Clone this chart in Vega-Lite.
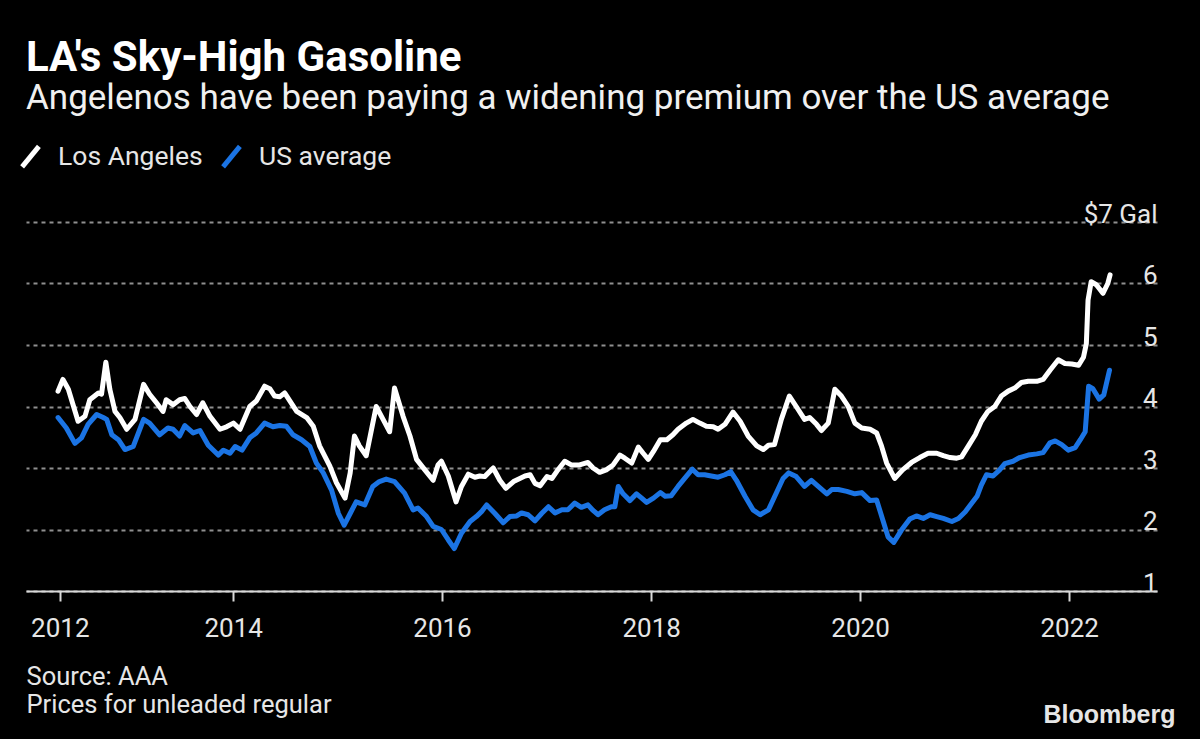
{
  "$schema": "https://vega.github.io/schema/vega-lite/v6.json",
  "width": 1131,
  "height": 369,
  "autosize": {"type": "none"},
  "padding": {"left": 26, "top": 222, "right": 43, "bottom": 148},
  "background": "#000000",
  "title": {
    "text": "LA's Sky-High Gasoline",
    "subtitle": "Angelenos have been paying a widening premium over the US average",
    "anchor": "start",
    "frame": "group",
    "orient": "top",
    "offset": 25,
    "font": "Roboto",
    "fontSize": 42,
    "fontWeight": "bold",
    "color": "#ffffff",
    "subtitleFont": "Roboto",
    "subtitleFontSize": 35,
    "subtitleColor": "#f0f0f0",
    "subtitlePadding": 1
  },
  "data": {
    "values": [
      {"d":"2012-04-29","s":"Los Angeles","p":4.25},
      {"d":"2012-05-16","s":"Los Angeles","p":4.44},
      {"d":"2012-06-04","s":"Los Angeles","p":4.28},
      {"d":"2012-07-08","s":"Los Angeles","p":3.76},
      {"d":"2012-08-01","s":"Los Angeles","p":3.84},
      {"d":"2012-08-18","s":"Los Angeles","p":4.11},
      {"d":"2012-09-17","s":"Los Angeles","p":4.22},
      {"d":"2012-09-28","s":"Los Angeles","p":4.20},
      {"d":"2012-10-13","s":"Los Angeles","p":4.72},
      {"d":"2012-10-27","s":"Los Angeles","p":4.28},
      {"d":"2012-11-14","s":"Los Angeles","p":3.92},
      {"d":"2012-12-01","s":"Los Angeles","p":3.82},
      {"d":"2012-12-25","s":"Los Angeles","p":3.63},
      {"d":"2013-01-23","s":"Los Angeles","p":3.79},
      {"d":"2013-02-22","s":"Los Angeles","p":4.36},
      {"d":"2013-03-15","s":"Los Angeles","p":4.20},
      {"d":"2013-04-08","s":"Los Angeles","p":4.06},
      {"d":"2013-05-01","s":"Los Angeles","p":3.92},
      {"d":"2013-05-12","s":"Los Angeles","p":4.11},
      {"d":"2013-06-05","s":"Los Angeles","p":4.03},
      {"d":"2013-06-28","s":"Los Angeles","p":4.11},
      {"d":"2013-07-16","s":"Los Angeles","p":4.13},
      {"d":"2013-08-03","s":"Los Angeles","p":4.00},
      {"d":"2013-08-26","s":"Los Angeles","p":3.87},
      {"d":"2013-09-17","s":"Los Angeles","p":4.06},
      {"d":"2013-10-12","s":"Los Angeles","p":3.84},
      {"d":"2013-11-16","s":"Los Angeles","p":3.63},
      {"d":"2013-12-09","s":"Los Angeles","p":3.67},
      {"d":"2014-01-02","s":"Los Angeles","p":3.73},
      {"d":"2014-01-25","s":"Los Angeles","p":3.63},
      {"d":"2014-02-28","s":"Los Angeles","p":4.00},
      {"d":"2014-03-23","s":"Los Angeles","p":4.09},
      {"d":"2014-04-21","s":"Los Angeles","p":4.33},
      {"d":"2014-05-09","s":"Los Angeles","p":4.29},
      {"d":"2014-05-26","s":"Los Angeles","p":4.17},
      {"d":"2014-06-13","s":"Los Angeles","p":4.16},
      {"d":"2014-06-30","s":"Los Angeles","p":4.22},
      {"d":"2014-08-11","s":"Los Angeles","p":3.92},
      {"d":"2014-09-15","s":"Los Angeles","p":3.82},
      {"d":"2014-10-08","s":"Los Angeles","p":3.68},
      {"d":"2014-10-30","s":"Los Angeles","p":3.36},
      {"d":"2014-12-05","s":"Los Angeles","p":3.03},
      {"d":"2014-12-28","s":"Los Angeles","p":2.76},
      {"d":"2015-01-27","s":"Los Angeles","p":2.51},
      {"d":"2015-02-14","s":"Los Angeles","p":2.92},
      {"d":"2015-03-01","s":"Los Angeles","p":3.52},
      {"d":"2015-03-18","s":"Los Angeles","p":3.36},
      {"d":"2015-04-11","s":"Los Angeles","p":3.20},
      {"d":"2015-05-16","s":"Los Angeles","p":4.00},
      {"d":"2015-06-09","s":"Los Angeles","p":3.79},
      {"d":"2015-07-02","s":"Los Angeles","p":3.59},
      {"d":"2015-07-19","s":"Los Angeles","p":4.30},
      {"d":"2015-08-18","s":"Los Angeles","p":3.84},
      {"d":"2015-09-11","s":"Los Angeles","p":3.52},
      {"d":"2015-10-04","s":"Los Angeles","p":3.14},
      {"d":"2015-11-02","s":"Los Angeles","p":2.97},
      {"d":"2015-12-01","s":"Los Angeles","p":2.80},
      {"d":"2015-12-18","s":"Los Angeles","p":3.05},
      {"d":"2015-12-30","s":"Los Angeles","p":3.11},
      {"d":"2016-01-23","s":"Los Angeles","p":2.87},
      {"d":"2016-02-19","s":"Los Angeles","p":2.45},
      {"d":"2016-03-09","s":"Los Angeles","p":2.70},
      {"d":"2016-04-02","s":"Los Angeles","p":2.90},
      {"d":"2016-04-25","s":"Los Angeles","p":2.85},
      {"d":"2016-05-12","s":"Los Angeles","p":2.87},
      {"d":"2016-05-29","s":"Los Angeles","p":2.86},
      {"d":"2016-06-28","s":"Los Angeles","p":3.00},
      {"d":"2016-07-21","s":"Los Angeles","p":2.80},
      {"d":"2016-08-11","s":"Los Angeles","p":2.67},
      {"d":"2016-09-07","s":"Los Angeles","p":2.78},
      {"d":"2016-09-29","s":"Los Angeles","p":2.83},
      {"d":"2016-10-17","s":"Los Angeles","p":2.87},
      {"d":"2016-11-04","s":"Los Angeles","p":2.89},
      {"d":"2016-11-21","s":"Los Angeles","p":2.75},
      {"d":"2016-12-09","s":"Los Angeles","p":2.71},
      {"d":"2017-01-02","s":"Los Angeles","p":2.86},
      {"d":"2017-01-19","s":"Los Angeles","p":2.83},
      {"d":"2017-02-06","s":"Los Angeles","p":2.95},
      {"d":"2017-03-05","s":"Los Angeles","p":3.11},
      {"d":"2017-03-28","s":"Los Angeles","p":3.05},
      {"d":"2017-04-26","s":"Los Angeles","p":3.05},
      {"d":"2017-05-25","s":"Los Angeles","p":3.09},
      {"d":"2017-06-12","s":"Los Angeles","p":3.00},
      {"d":"2017-07-05","s":"Los Angeles","p":2.93},
      {"d":"2017-07-28","s":"Los Angeles","p":2.97},
      {"d":"2017-08-21","s":"Los Angeles","p":3.05},
      {"d":"2017-09-14","s":"Los Angeles","p":3.21},
      {"d":"2017-10-01","s":"Los Angeles","p":3.16},
      {"d":"2017-10-25","s":"Los Angeles","p":3.08},
      {"d":"2017-11-17","s":"Los Angeles","p":3.34},
      {"d":"2017-12-04","s":"Los Angeles","p":3.24},
      {"d":"2017-12-22","s":"Los Angeles","p":3.14},
      {"d":"2018-01-09","s":"Los Angeles","p":3.27},
      {"d":"2018-02-02","s":"Los Angeles","p":3.46},
      {"d":"2018-02-25","s":"Los Angeles","p":3.46},
      {"d":"2018-03-18","s":"Los Angeles","p":3.54},
      {"d":"2018-04-05","s":"Los Angeles","p":3.63},
      {"d":"2018-05-04","s":"Los Angeles","p":3.73},
      {"d":"2018-05-27","s":"Los Angeles","p":3.79},
      {"d":"2018-06-20","s":"Los Angeles","p":3.73},
      {"d":"2018-07-13","s":"Los Angeles","p":3.68},
      {"d":"2018-08-06","s":"Los Angeles","p":3.67},
      {"d":"2018-08-23","s":"Los Angeles","p":3.63},
      {"d":"2018-09-16","s":"Los Angeles","p":3.71},
      {"d":"2018-10-14","s":"Los Angeles","p":3.91},
      {"d":"2018-11-08","s":"Los Angeles","p":3.76},
      {"d":"2018-12-06","s":"Los Angeles","p":3.52},
      {"d":"2019-01-05","s":"Los Angeles","p":3.36},
      {"d":"2019-01-28","s":"Los Angeles","p":3.30},
      {"d":"2019-02-15","s":"Los Angeles","p":3.37},
      {"d":"2019-03-08","s":"Los Angeles","p":3.38},
      {"d":"2019-04-01","s":"Los Angeles","p":3.79},
      {"d":"2019-04-29","s":"Los Angeles","p":4.17},
      {"d":"2019-05-23","s":"Los Angeles","p":4.00},
      {"d":"2019-06-21","s":"Los Angeles","p":3.79},
      {"d":"2019-07-09","s":"Los Angeles","p":3.82},
      {"d":"2019-08-02","s":"Los Angeles","p":3.71},
      {"d":"2019-08-19","s":"Los Angeles","p":3.61},
      {"d":"2019-09-12","s":"Los Angeles","p":3.73},
      {"d":"2019-10-05","s":"Los Angeles","p":4.28},
      {"d":"2019-10-28","s":"Los Angeles","p":4.17},
      {"d":"2019-11-21","s":"Los Angeles","p":4.00},
      {"d":"2019-12-14","s":"Los Angeles","p":3.73},
      {"d":"2020-01-07","s":"Los Angeles","p":3.65},
      {"d":"2020-02-05","s":"Los Angeles","p":3.63},
      {"d":"2020-02-28","s":"Los Angeles","p":3.57},
      {"d":"2020-03-16","s":"Los Angeles","p":3.36},
      {"d":"2020-04-03","s":"Los Angeles","p":3.08},
      {"d":"2020-05-01","s":"Los Angeles","p":2.83},
      {"d":"2020-05-29","s":"Los Angeles","p":2.97},
      {"d":"2020-06-29","s":"Los Angeles","p":3.09},
      {"d":"2020-07-28","s":"Los Angeles","p":3.17},
      {"d":"2020-08-26","s":"Los Angeles","p":3.24},
      {"d":"2020-09-25","s":"Los Angeles","p":3.24},
      {"d":"2020-10-18","s":"Los Angeles","p":3.20},
      {"d":"2020-11-11","s":"Los Angeles","p":3.17},
      {"d":"2020-12-04","s":"Los Angeles","p":3.16},
      {"d":"2020-12-21","s":"Los Angeles","p":3.18},
      {"d":"2021-01-14","s":"Los Angeles","p":3.36},
      {"d":"2021-02-07","s":"Los Angeles","p":3.54},
      {"d":"2021-02-28","s":"Los Angeles","p":3.76},
      {"d":"2021-03-23","s":"Los Angeles","p":3.92},
      {"d":"2021-04-16","s":"Los Angeles","p":4.00},
      {"d":"2021-05-09","s":"Los Angeles","p":4.17},
      {"d":"2021-06-02","s":"Los Angeles","p":4.25},
      {"d":"2021-06-25","s":"Los Angeles","p":4.30},
      {"d":"2021-07-18","s":"Los Angeles","p":4.39},
      {"d":"2021-08-11","s":"Los Angeles","p":4.41},
      {"d":"2021-09-10","s":"Los Angeles","p":4.41},
      {"d":"2021-10-02","s":"Los Angeles","p":4.44},
      {"d":"2021-10-26","s":"Los Angeles","p":4.59},
      {"d":"2021-11-24","s":"Los Angeles","p":4.76},
      {"d":"2021-12-17","s":"Los Angeles","p":4.70},
      {"d":"2022-01-10","s":"Los Angeles","p":4.69},
      {"d":"2022-02-03","s":"Los Angeles","p":4.67},
      {"d":"2022-02-20","s":"Los Angeles","p":4.80},
      {"d":"2022-03-02","s":"Los Angeles","p":5.02},
      {"d":"2022-03-08","s":"Los Angeles","p":5.73},
      {"d":"2022-03-19","s":"Los Angeles","p":6.03},
      {"d":"2022-04-06","s":"Los Angeles","p":5.98},
      {"d":"2022-04-29","s":"Los Angeles","p":5.84},
      {"d":"2022-05-16","s":"Los Angeles","p":6.00},
      {"d":"2022-05-24","s":"Los Angeles","p":6.14},
      {"d":"2012-04-29","s":"US average","p":3.82},
      {"d":"2012-05-28","s":"US average","p":3.65},
      {"d":"2012-06-27","s":"US average","p":3.40},
      {"d":"2012-07-20","s":"US average","p":3.49},
      {"d":"2012-08-12","s":"US average","p":3.71},
      {"d":"2012-09-11","s":"US average","p":3.87},
      {"d":"2012-10-04","s":"US average","p":3.82},
      {"d":"2012-10-16","s":"US average","p":3.79},
      {"d":"2012-11-03","s":"US average","p":3.54},
      {"d":"2012-11-26","s":"US average","p":3.46},
      {"d":"2012-12-19","s":"US average","p":3.30},
      {"d":"2013-01-17","s":"US average","p":3.35},
      {"d":"2013-02-22","s":"US average","p":3.79},
      {"d":"2013-03-15","s":"US average","p":3.73},
      {"d":"2013-04-19","s":"US average","p":3.54},
      {"d":"2013-05-18","s":"US average","p":3.65},
      {"d":"2013-06-05","s":"US average","p":3.63},
      {"d":"2013-06-28","s":"US average","p":3.52},
      {"d":"2013-07-16","s":"US average","p":3.69},
      {"d":"2013-08-14","s":"US average","p":3.57},
      {"d":"2013-09-07","s":"US average","p":3.61},
      {"d":"2013-10-06","s":"US average","p":3.37},
      {"d":"2013-11-10","s":"US average","p":3.21},
      {"d":"2013-11-28","s":"US average","p":3.29},
      {"d":"2013-12-21","s":"US average","p":3.24},
      {"d":"2014-01-08","s":"US average","p":3.35},
      {"d":"2014-02-01","s":"US average","p":3.29},
      {"d":"2014-02-28","s":"US average","p":3.49},
      {"d":"2014-03-23","s":"US average","p":3.57},
      {"d":"2014-04-21","s":"US average","p":3.73},
      {"d":"2014-05-20","s":"US average","p":3.67},
      {"d":"2014-06-13","s":"US average","p":3.69},
      {"d":"2014-07-06","s":"US average","p":3.68},
      {"d":"2014-07-29","s":"US average","p":3.54},
      {"d":"2014-08-28","s":"US average","p":3.46},
      {"d":"2014-09-26","s":"US average","p":3.35},
      {"d":"2014-10-19","s":"US average","p":3.08},
      {"d":"2014-11-12","s":"US average","p":2.92},
      {"d":"2014-12-11","s":"US average","p":2.64},
      {"d":"2015-01-04","s":"US average","p":2.26},
      {"d":"2015-01-24","s":"US average","p":2.07},
      {"d":"2015-02-14","s":"US average","p":2.26},
      {"d":"2015-03-07","s":"US average","p":2.45},
      {"d":"2015-04-06","s":"US average","p":2.40},
      {"d":"2015-05-04","s":"US average","p":2.70},
      {"d":"2015-05-27","s":"US average","p":2.78},
      {"d":"2015-06-20","s":"US average","p":2.82},
      {"d":"2015-07-19","s":"US average","p":2.78},
      {"d":"2015-08-23","s":"US average","p":2.59},
      {"d":"2015-09-22","s":"US average","p":2.32},
      {"d":"2015-10-09","s":"US average","p":2.35},
      {"d":"2015-11-08","s":"US average","p":2.21},
      {"d":"2015-12-01","s":"US average","p":2.05},
      {"d":"2015-12-30","s":"US average","p":2.00},
      {"d":"2016-01-23","s":"US average","p":1.83},
      {"d":"2016-02-13","s":"US average","p":1.69},
      {"d":"2016-03-09","s":"US average","p":1.94},
      {"d":"2016-04-08","s":"US average","p":2.13},
      {"d":"2016-04-30","s":"US average","p":2.21},
      {"d":"2016-05-18","s":"US average","p":2.29},
      {"d":"2016-06-05","s":"US average","p":2.40},
      {"d":"2016-07-04","s":"US average","p":2.26},
      {"d":"2016-08-02","s":"US average","p":2.11},
      {"d":"2016-08-25","s":"US average","p":2.21},
      {"d":"2016-09-18","s":"US average","p":2.22},
      {"d":"2016-10-05","s":"US average","p":2.27},
      {"d":"2016-10-28","s":"US average","p":2.24},
      {"d":"2016-11-21","s":"US average","p":2.14},
      {"d":"2016-12-14","s":"US average","p":2.26},
      {"d":"2017-01-07","s":"US average","p":2.37},
      {"d":"2017-01-30","s":"US average","p":2.27},
      {"d":"2017-02-23","s":"US average","p":2.32},
      {"d":"2017-03-16","s":"US average","p":2.32},
      {"d":"2017-04-09","s":"US average","p":2.43},
      {"d":"2017-05-02","s":"US average","p":2.36},
      {"d":"2017-05-25","s":"US average","p":2.40},
      {"d":"2017-06-12","s":"US average","p":2.31},
      {"d":"2017-06-29","s":"US average","p":2.24},
      {"d":"2017-07-22","s":"US average","p":2.32},
      {"d":"2017-08-15","s":"US average","p":2.37},
      {"d":"2017-08-27","s":"US average","p":2.37},
      {"d":"2017-09-08","s":"US average","p":2.70},
      {"d":"2017-09-25","s":"US average","p":2.58},
      {"d":"2017-10-19","s":"US average","p":2.47},
      {"d":"2017-11-11","s":"US average","p":2.58},
      {"d":"2017-11-29","s":"US average","p":2.51},
      {"d":"2017-12-16","s":"US average","p":2.44},
      {"d":"2018-01-09","s":"US average","p":2.51},
      {"d":"2018-02-02","s":"US average","p":2.60},
      {"d":"2018-02-19","s":"US average","p":2.54},
      {"d":"2018-03-12","s":"US average","p":2.55},
      {"d":"2018-04-05","s":"US average","p":2.70},
      {"d":"2018-04-28","s":"US average","p":2.83},
      {"d":"2018-05-25","s":"US average","p":2.98},
      {"d":"2018-06-14","s":"US average","p":2.89},
      {"d":"2018-07-07","s":"US average","p":2.89},
      {"d":"2018-07-30","s":"US average","p":2.87},
      {"d":"2018-08-23","s":"US average","p":2.85},
      {"d":"2018-09-16","s":"US average","p":2.89},
      {"d":"2018-10-06","s":"US average","p":2.94},
      {"d":"2018-10-26","s":"US average","p":2.80},
      {"d":"2018-11-25","s":"US average","p":2.54},
      {"d":"2018-12-23","s":"US average","p":2.32},
      {"d":"2019-01-17","s":"US average","p":2.24},
      {"d":"2019-02-15","s":"US average","p":2.32},
      {"d":"2019-03-14","s":"US average","p":2.59},
      {"d":"2019-04-07","s":"US average","p":2.83},
      {"d":"2019-04-27","s":"US average","p":2.92},
      {"d":"2019-05-23","s":"US average","p":2.86},
      {"d":"2019-06-21","s":"US average","p":2.70},
      {"d":"2019-07-15","s":"US average","p":2.80},
      {"d":"2019-08-08","s":"US average","p":2.70},
      {"d":"2019-09-07","s":"US average","p":2.58},
      {"d":"2019-09-24","s":"US average","p":2.65},
      {"d":"2019-10-17","s":"US average","p":2.65},
      {"d":"2019-11-16","s":"US average","p":2.62},
      {"d":"2019-12-14","s":"US average","p":2.58},
      {"d":"2020-01-07","s":"US average","p":2.60},
      {"d":"2020-02-05","s":"US average","p":2.47},
      {"d":"2020-02-28","s":"US average","p":2.48},
      {"d":"2020-03-21","s":"US average","p":2.15},
      {"d":"2020-04-08","s":"US average","p":1.88},
      {"d":"2020-04-28","s":"US average","p":1.79},
      {"d":"2020-05-25","s":"US average","p":1.99},
      {"d":"2020-06-23","s":"US average","p":2.17},
      {"d":"2020-07-16","s":"US average","p":2.22},
      {"d":"2020-08-09","s":"US average","p":2.18},
      {"d":"2020-09-02","s":"US average","p":2.24},
      {"d":"2020-09-25","s":"US average","p":2.21},
      {"d":"2020-10-18","s":"US average","p":2.18},
      {"d":"2020-11-17","s":"US average","p":2.13},
      {"d":"2020-12-10","s":"US average","p":2.18},
      {"d":"2021-01-03","s":"US average","p":2.29},
      {"d":"2021-01-26","s":"US average","p":2.43},
      {"d":"2021-02-13","s":"US average","p":2.54},
      {"d":"2021-02-28","s":"US average","p":2.72},
      {"d":"2021-03-18","s":"US average","p":2.89},
      {"d":"2021-04-10","s":"US average","p":2.87},
      {"d":"2021-05-03","s":"US average","p":2.97},
      {"d":"2021-05-21","s":"US average","p":3.07},
      {"d":"2021-06-19","s":"US average","p":3.11},
      {"d":"2021-07-12","s":"US average","p":3.17},
      {"d":"2021-08-11","s":"US average","p":3.21},
      {"d":"2021-09-10","s":"US average","p":3.23},
      {"d":"2021-10-02","s":"US average","p":3.25},
      {"d":"2021-10-26","s":"US average","p":3.41},
      {"d":"2021-11-13","s":"US average","p":3.44},
      {"d":"2021-12-06","s":"US average","p":3.38},
      {"d":"2021-12-29","s":"US average","p":3.29},
      {"d":"2022-01-22","s":"US average","p":3.33},
      {"d":"2022-02-09","s":"US average","p":3.46},
      {"d":"2022-02-26","s":"US average","p":3.59},
      {"d":"2022-03-10","s":"US average","p":4.33},
      {"d":"2022-03-25","s":"US average","p":4.29},
      {"d":"2022-04-16","s":"US average","p":4.12},
      {"d":"2022-05-02","s":"US average","p":4.19},
      {"d":"2022-05-22","s":"US average","p":4.59}
    ]
  },
  "mark": {"type": "line", "strokeWidth": 5, "strokeJoin": "round", "strokeCap": "round"},
  "encoding": {
    "x": {
      "field": "d",
      "type": "temporal",
      "scale": {"domain": [{"year": 2012, "month": 1, "date": 8}, {"year": 2022, "month": 11, "date": 4}], "nice": false},
      "axis": {
        "values": [
          {"year": 2012, "month": 5, "date": 5},
          {"year": 2014, "month": 1, "date": 1},
          {"year": 2016, "month": 1, "date": 1},
          {"year": 2018, "month": 1, "date": 1},
          {"year": 2020, "month": 1, "date": 1},
          {"year": 2022, "month": 1, "date": 1}
        ],
        "labelExpr": "timeFormat(datum.value, '%Y')",
        "grid": false,
        "domain": true,
        "domainColor": "#d9d9d9",
        "domainWidth": 2,
        "ticks": true,
        "tickColor": "#d9d9d9",
        "tickWidth": 2,
        "tickSize": 10,
        "labelPadding": 14,
        "labelFont": "Roboto",
        "labelFontSize": 26,
        "labelColor": "#e6e6e6",
        "labelFlush": false,
        "labelOverlap": false,
        "zindex": 1,
        "title": ["Source: AAA", "Prices for unleaded regular"],
        "titleFont": "Roboto",
        "titleFontSize": 25.5,
        "titleFontWeight": "normal",
        "titleColor": "#e6e6e6",
        "titleAnchor": "start",
        "titleAlign": "left",
        "titleBaseline": "alphabetic",
        "titleLineHeight": 28,
        "titleX": 0,
        "titleY": 93
      }
    },
    "y": {
      "field": "p",
      "type": "quantitative",
      "scale": {"domain": [1, 7], "nice": false, "zero": false},
      "axis": {
        "orient": "right",
        "values": [1, 2, 3, 4, 5, 6, 7],
        "labelExpr": "datum.value == 7 ? '$7 Gal' : format(datum.value, 'd')",
        "domain": false,
        "ticks": false,
        "tickSize": 0,
        "grid": true,
        "gridColor": "#8f8f8f",
        "gridDash": [4, 4],
        "gridWidth": 2,
        "labelAlign": "right",
        "labelBaseline": "alphabetic",
        "labelPadding": 0,
        "labelDy": -17,
        "labelFont": "Roboto",
        "labelFontSize": 26,
        "labelColor": "#e6e6e6",
        "labelBound": false,
        "labelFlush": false,
        "encode": {"labels": {"update": {"align": {"value": "right"}, "x": {"value": 1}, "dx": {"value": 0}}}},
        "zindex": 0,
        "title": "Bloomberg",
        "titleFont": "Liberation Sans",
        "titleFontSize": 25,
        "titleFontWeight": "bold",
        "titleColor": "#e6e6e6",
        "titleAngle": 0,
        "titleAlign": "right",
        "titleBaseline": "alphabetic",
        "titleX": 18,
        "titleY": 500
      }
    },
    "color": {
      "field": "s",
      "type": "nominal",
      "scale": {"domain": ["Los Angeles", "US average"], "range": ["#ffffff", "#1b74e4"]},
      "legend": {
        "orient": "none",
        "legendX": -10,
        "legendY": -80,
        "padding": 0,
        "direction": "horizontal",
        "title": null,
        "symbolType": "M-0.7,0.85L0.7,-0.85",
        "symbolSize": 576,
        "symbolStrokeWidth": 5,
        "labelFont": "Roboto",
        "labelFontSize": 26.5,
        "labelColor": "#e6e6e6",
        "labelOffset": 13,
        "columnPadding": 10
      }
    }
  },
  "config": {
    "view": {"stroke": null}
  }
}
